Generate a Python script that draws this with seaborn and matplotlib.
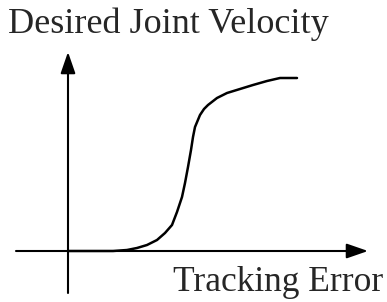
import matplotlib
matplotlib.use('Agg')
import matplotlib.pyplot as plt
import seaborn as sns
import pandas as pd

# Sketched curve: tracking error vs desired joint velocity (arbitrary units)
tracking_error = [0, 45, 59, 69, 79, 89, 97, 104, 109, 114, 117, 120, 123, 125, 127,
                  132, 136, 140, 149, 159, 172, 185, 199, 212, 229]
joint_velocity = [0, 0, 1, 3, 6, 11, 18, 26, 39, 54, 68, 84, 101, 114, 124,
                  136, 142, 146, 153, 158, 162, 166, 170, 173, 173]

y_label = 'Desired Joint Velocity'
x_label = 'Tracking Error'

df = pd.DataFrame({'error': tracking_error, 'velocity': joint_velocity})

sns.set_style('white')
plt.rcParams['font.family'] = ['Liberation Serif', 'DejaVu Serif']

fig = plt.figure(figsize=(3.87, 3.02), dpi=100)
ax = fig.add_axes([0, 0, 1, 1])
ax.set_xlim(-68, 319)
ax.set_ylim(-51, 251)
ax.axis('off')

# axes with arrowheads
arrow = dict(arrowstyle='-|>,head_length=1.3,head_width=0.45', lw=1.5,
             color='black', shrinkA=0, shrinkB=0)
ax.annotate('', xy=(0, 199), xytext=(0, -42), arrowprops=arrow)
ax.annotate('', xy=(300, 0), xytext=(-52, 0), arrowprops=arrow)

sns.lineplot(data=df, x='error', y='velocity', ax=ax, color='black', lw=1.8, sort=False)
ax.set_xlabel('')
ax.set_ylabel('')

fig.text(8 / 387, 1 - 33 / 302, y_label, fontsize=26, va='baseline', ha='left')
fig.text(383 / 387, 1 - 291 / 302, x_label, fontsize=25.5, va='baseline', ha='right')

fig.savefig('out.png', dpi=100)
